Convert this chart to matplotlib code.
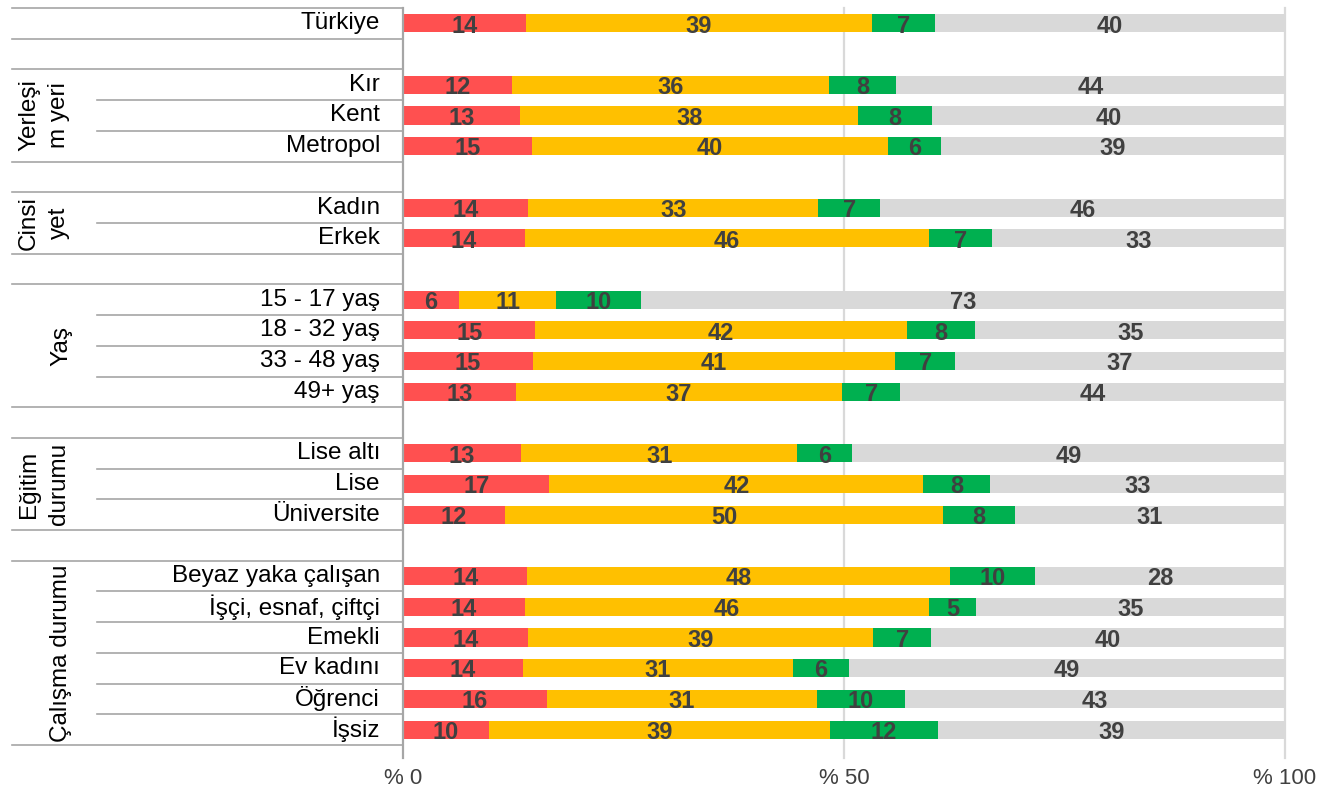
import matplotlib.pyplot as plt
from matplotlib.transforms import blended_transform_factory

# kategori etiketleri ve gruplar
labels = ["Türkiye",
          "Kır", "Kent", "Metropol",
          "Kadın", "Erkek",
          "15 - 17 yaş", "18 - 32 yaş", "33 - 48 yaş", "49+ yaş",
          "Lise altı", "Lise", "Üniversite",
          "Beyaz yaka çalışan", "İşçi, esnaf, çiftçi", "Emekli",
          "Ev kadını", "Öğrenci", "İşsiz"]
group_names = ["", "Yerleşi\nm yeri", "Cinsi\nyet", "Yaş", "Eğitim\ndurumu", "Çalışma durumu"]
group_sizes = [1, 3, 2, 4, 3, 6]

# seri değerleri (%)
red = [13.9, 12.4, 13.3, 14.6, 14.2, 13.8, 6.3, 15.0, 14.7, 12.8,
       13.4, 16.6, 11.6, 14.1, 13.8, 14.2, 13.6, 16.3, 9.7]
yellow = [39.3, 35.9, 38.3, 40.4, 32.9, 45.8, 11.1, 42.1, 41.1, 37.0,
          31.3, 42.4, 49.6, 47.9, 45.8, 39.1, 30.6, 30.6, 38.7]
green = [7.1, 7.6, 8.4, 6.0, 7.0, 7.2, 9.6, 7.8, 6.8, 6.6,
         6.2, 7.6, 8.2, 9.7, 5.4, 6.6, 6.4, 10.0, 12.3]
gray = [39.7, 44.1, 40.0, 39.0, 45.9, 33.2, 73.0, 35.1, 37.4, 43.6,
        49.1, 33.4, 30.6, 28.3, 35.0, 40.1, 49.4, 43.1, 39.3]

series = [red, yellow, green, gray]
colors = ["#FF5050", "#FFC000", "#00B050", "#D9D9D9"]

xticks = [0, 50, 100]
xtick_labels = ["% 0", "% 50", "% 100"]

W, H = 1325, 792
fig = plt.figure(figsize=(W / 100, H / 100), dpi=100)
ax = fig.add_axes([403 / W, 1 - 745 / H, 882 / W, 737 / H])

# satır konumları (her gruptan sonra boş satır)
pos = []
starts = []
i = 0
for size in group_sizes:
    starts.append(i)
    for k in range(size):
        pos.append(i)
        i += 1
    i += 1

ax.set_xlim(0, 100)
ax.set_ylim(23.5, -0.5)
for s in ax.spines.values():
    s.set_visible(False)
ax.set_xticks([])
ax.set_yticks([])

# ızgara çizgileri
for x in xticks:
    col = "#A6A6A6" if x == 0 else "#D9D9D9"
    ax.axvline(x, ymin=-0.018, ymax=1, color=col, lw=1.6, zorder=0 if x else 3,
               clip_on=False)

left = [0.0] * len(labels)
for vals, c in zip(series, colors):
    ax.barh(pos, vals, left=left, height=0.59, color=c, zorder=2)
    for p, l, v in zip(pos, left, vals):
        ax.text(l + v / 2, p + 0.09, f"{v:.0f}", ha="center", va="center",
                fontsize=17, fontweight="bold", color="#404040",
                family="Liberation Sans", zorder=4)
    left = [l + v for l, v in zip(left, vals)]

trans = blended_transform_factory(ax.transAxes, ax.transData)
x_full = (12 - 403) / 882
x_inner = (97 - 403) / 882
line_kw = dict(color="#A6A6A6", lw=1.2, transform=trans, clip_on=False)

for name, s, n in zip(group_names, starts, group_sizes):
    ax.plot([x_full, 0], [s - 0.5, s - 0.5], **line_kw)
    ax.plot([x_full, 0], [s + n - 0.5, s + n - 0.5], **line_kw)
    for k in range(1, n):
        ax.plot([x_inner, 0], [s + k - 0.5, s + k - 0.5], **line_kw)
    if name:
        gx = (44 - 403) / 882 if "\n" in name else (61 - 403) / 882
        ax.text(gx, s + (n - 1) / 2, name, rotation=90, ha="center", va="center",
                fontsize=17.5, family="Liberation Sans", color="black",
                linespacing=1.45, transform=trans)

for p, lab in zip(pos, labels):
    ax.text((380 - 403) / 882, p, lab, ha="right", va="center", fontsize=17.5,
            family="Liberation Sans", color="black", transform=trans)

for x, lab in zip(xticks, xtick_labels):
    ax.text(x, -0.045, lab, ha="center", va="center", fontsize=16,
            family="Liberation Sans", color="#404040",
            transform=blended_transform_factory(ax.transData, ax.transAxes))

fig.savefig("out.png", dpi=100)
